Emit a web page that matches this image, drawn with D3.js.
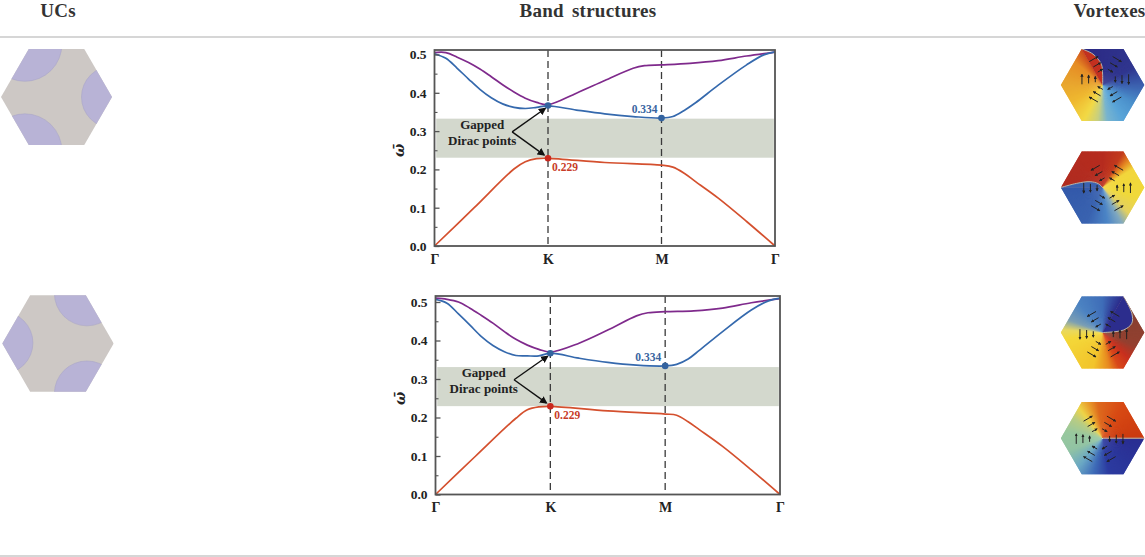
<!DOCTYPE html>
<html>
<head>
<meta charset="utf-8">
<script src="https://cdn.jsdelivr.net/npm/d3@7"></script>
<style>
	html, body { margin: 0; padding: 0; background: #fff; }
	svg { display: block; }
	text { font-family: "Liberation Serif", serif; font-weight: bold; }
</style>
</head>
<body>
<svg width="1145" height="557"></svg>
<script>
const headers = ["UCs", "Band structures", "Vortexes"];
const yTicks = [0, 0.1, 0.2, 0.3, 0.4, 0.5];
const yMinorTicks = [0.05, 0.15, 0.25, 0.35, 0.45];
const xTicks = [0, 1, 2, 3];
const xTickLabels = ["Γ", "K", "M", "Γ"];
const gapA = [0.2305, 0.3325];
const gapB = [0.2295, 0.331];

const kLower = [0, 0.35, 0.7, 0.8, 0.9, 1, 1.5, 2, 2.1, 2.2, 2.3, 2.5, 2.75, 3];
const kMiddle = [0, 0.1, 0.2, 0.3, 0.4, 0.5, 0.6, 0.7, 0.8, 0.9, 1, 1.25, 1.5, 1.75, 2, 2.1, 2.2, 2.3, 2.5, 2.75, 2.9, 3];
const kUpper = [0, 0.1, 0.2, 0.3, 0.4, 0.5, 0.6, 0.7, 0.8, 0.9, 1, 1.25, 1.5, 1.75, 1.85, 2, 2.25, 2.5, 2.75, 3];

const lowerA = [0, 0.1, 0.201, 0.22, 0.228, 0.229, 0.218, 0.211, 0.206, 0.19, 0.168, 0.125, 0.064, 0];
const middleA = [0.502, 0.49, 0.464, 0.436, 0.409, 0.387, 0.371, 0.362, 0.359, 0.362, 0.366, 0.355, 0.345, 0.338, 0.334, 0.338, 0.354, 0.374, 0.42, 0.473, 0.499, 0.507];
const upperA = [0.505, 0.505, 0.493, 0.479, 0.462, 0.442, 0.421, 0.402, 0.386, 0.375, 0.369, 0.399, 0.432, 0.464, 0.471, 0.473, 0.477, 0.484, 0.496, 0.506];

const lowerB = [0, 0.1, 0.198, 0.22, 0.2275, 0.229, 0.217, 0.209, 0.206, 0.189, 0.168, 0.125, 0.064, 0];
const middleB = [0.507, 0.497, 0.469, 0.44, 0.41, 0.387, 0.371, 0.361, 0.36, 0.36, 0.367, 0.354, 0.343, 0.336, 0.334, 0.338, 0.352, 0.375, 0.423, 0.479, 0.503, 0.51];
const upperB = [0.51, 0.507, 0.5, 0.484, 0.465, 0.445, 0.423, 0.403, 0.388, 0.377, 0.37, 0.393, 0.427, 0.464, 0.472, 0.475, 0.477, 0.484, 0.498, 0.509];

// hexagon corners and blobs, in units of the hexagon radius
const hexCorners = [[-1, 0], [-0.5, -0.866], [0.5, -0.866], [1, 0], [0.5, 0.866], [-0.5, 0.866]];
const blobsA = [[-0.57, -0.95, 0.667], [1.01, 0, 0.56], [-0.57, 0.97, 0.667]];
const blobsB = [[0.52, -0.9, 0.585], [-1.01, -0.01, 0.56], [0.52, 0.9, 0.585]];

// colour around the centre, degrees clockwise from twelve o'clock
const vortexes = [
	{ angles: [-30, 60, 90, 120, 150, 172, 188, 208, 240, 275, 310, 330],
		colors: ["#2c2a84", "#30368f", "#3b5fae", "#4a8fcb", "#5aa5d8", "#78b4cf", "#c8d080", "#f2d945", "#efb930", "#e8a42e", "#e68c25", "#cc4a1e"],
		edge: [[-0.5, -0.866], [-0.23, -0.74], [-0.03, -0.5], [0, -0.26], [0, 0]], bulge: "#c3301f", swirl: 1, shift: [2.7, -5.7] },
	{ angles: [-90, 0, 30, 42, 58, 105, 135, 152, 172, 205, 270],
		colors: ["#b02c20", "#b62c1f", "#c23a1e", "#e27f20", "#f2d63c", "#f0d93a", "#e3d060", "#80a8c0", "#4c85c6", "#3a63b0", "#3359aa"],
		edge: [[-1, 0], [-0.62, -0.1], [-0.3, -0.14], [-0.1, -0.09], [0, 0]], bulge: "#3a62b0", swirl: -1, shift: [4.5, 0.5] },
	{ angles: [30, 70, 112, 135, 155, 170, 195, 260, 274, 290, 320, 360, 390],
		colors: ["#7b4a3e", "#8a4030", "#944030", "#c8301e", "#d9481a", "#e88a20", "#f2c42c", "#f4d83a", "#e8d860", "#7c9fb4", "#4c83c2", "#3f6db8", "#2c2d8d"],
		edge: [[0.5, -0.866], [0.7, -0.46], [0.7, -0.22], [0.5, -0.06], [0, 0]], bulge: "#2c2d8d", swirl: -1, shift: [0.7, 1.7] },
	{ angles: [90, 170, 195, 220, 250, 280, 305, 322, 338, 352, 390, 450],
		colors: ["#2a2e92", "#2c3ba0", "#3f6cb8", "#6ba8c4", "#92c4a4", "#98c89e", "#b8cc84", "#eed548", "#e89b2c", "#dd6a1e", "#d84a14", "#cb3a10"],
		edge: [[1, 0], [0, 0]], bulge: "#d84a14", swirl: 1, shift: [-3, 0.7] }
];
const sectorAngles = [30, 90, 150, 210, 270, 330];
const arrowRadii = [0.24, 0.4, 0.56];
const arrowLengths = [0.07, 0.1, 0.12];

const svg = d3.select("svg");
const defs = svg.append("defs");

function arrowMarker(id, size, color) {
	defs.append("marker").attr("id", id)
		.attr("viewBox", "0 0 10 10").attr("refX", 8).attr("refY", 5)
		.attr("markerWidth", size).attr("markerHeight", size)
		.attr("orient", "auto")
		.append("path").attr("d", "M0,0L10,5L0,10z").attr("fill", color);
}
arrowMarker("head", 5.5, "#111");
arrowMarker("swirlHead", 3.2, "#222");

// ---- header and rules
const headerX = [58, 588, 1109.5];
svg.selectAll(".header").data(headers).enter().append("text")
	.attr("class", "header")
	.attr("x", (d, i) => headerX[i]).attr("y", 17)
	.attr("text-anchor", "middle")
	.attr("font-size", 19).attr("fill", "#333")
	.attr("letter-spacing", 0.25).attr("word-spacing", 3)
	.text((d) => d);
svg.selectAll(".rule").data([37, 556]).enter().append("line")
	.attr("class", "rule")
	.attr("x1", 0).attr("x2", 1145).attr("y1", (d) => d).attr("y2", (d) => d)
	.attr("stroke", "#c9c9c9").attr("stroke-width", 1.3);

// ---- band charts
function drawBands(opts) {
	const x = d3.scaleLinear().domain([0, 3]).range([opts.left, opts.right]);
	const y = d3.scaleLinear().domain([0, 0.5]).range([opts.zero, opts.half]);
	const g = svg.append("g");

	g.append("rect")
		.attr("x", x(0.015)).attr("width", x(2.99) - x(0.015))
		.attr("y", y(opts.gap[1])).attr("height", y(opts.gap[0]) - y(opts.gap[1]))
		.attr("fill", "#d3d8cd");

	g.selectAll(".dash").data([1, 2]).enter().append("line")
		.attr("x1", (d) => x(d)).attr("x2", (d) => x(d))
		.attr("y1", opts.top).attr("y2", opts.zero)
		.attr("stroke", "#3a3a3a").attr("stroke-width", 1.3)
		.attr("stroke-dasharray", "7 4");

	const line = d3.line()
		.x((d) => x(d[0])).y((d) => y(d[1]))
		.curve(d3.curveCatmullRom.alpha(0.5));
	const bands = [
		[kUpper, opts.upper, "#7f2a8c"],
		[kLower, opts.lower, "#d4502e"],
		[kMiddle, opts.middle, "#3569ad"],
	];
	bands.forEach(([k, w, color]) => {
		g.append("path")
			.attr("d", line(d3.zip(k, w)))
			.attr("fill", "none").attr("stroke", color).attr("stroke-width", 1.7);
	});

	// frame and axes
	g.append("rect")
		.attr("x", x(0)).attr("y", opts.top)
		.attr("width", x(3) - x(0)).attr("height", opts.zero - opts.top)
		.attr("fill", "none").attr("stroke", "#555").attr("stroke-width", 1.8);

	const yAxis = g.append("g").attr("transform", `translate(${x(0)},0)`)
		.call(d3.axisLeft(y).tickValues(yTicks).tickSize(-5).tickPadding(8).tickFormat(d3.format(".1f")));
	yAxis.select(".domain").remove();
	yAxis.selectAll("line").attr("stroke", "#555").attr("stroke-width", 1.3);
	yAxis.selectAll("text").attr("font-size", 13.5).attr("fill", "#222")
		.attr("font-family", '"Liberation Serif", serif');
	const yMinor = g.append("g").attr("transform", `translate(${x(0)},0)`)
		.call(d3.axisLeft(y).tickValues(yMinorTicks).tickSize(-3).tickFormat(""));
	yMinor.select(".domain").remove();
	yMinor.selectAll("line").attr("stroke", "#555").attr("stroke-width", 1.1);

	const xAxis = g.append("g").attr("transform", `translate(0,${opts.zero})`)
		.call(d3.axisBottom(x).tickValues(xTicks).tickSize(0).tickPadding(8).tickFormat((d, i) => xTickLabels[i]));
	xAxis.select(".domain").remove();
	xAxis.selectAll("text").attr("font-size", 14).attr("fill", "#222")
		.attr("font-family", '"Liberation Serif", serif');

	g.append("text")
		.attr("transform", `translate(${x(0) - 31},${y(0.25)}) rotate(-90)`)
		.attr("text-anchor", "middle").attr("font-size", 14).attr("font-style", "italic").attr("fill", "#222")
		.style("font-family", '"DejaVu Serif", serif')
		.text("ω\u0304");

	// annotation
	const from = [0.684, 0.298];
	[[0.975, 0.359], [0.965, 0.238]].forEach((to) => {
		g.append("line")
			.attr("x1", x(from[0])).attr("y1", y(from[1]))
			.attr("x2", x(to[0])).attr("y2", y(to[1]))
			.attr("stroke", "#111").attr("stroke-width", 1.4)
			.attr("marker-end", "url(#head)");
	});
	[["Gapped", 0.305], ["Dirac points", 0.264]].forEach(([t, w]) => {
		g.append("text")
			.attr("x", x(0.42)).attr("y", y(w))
			.attr("text-anchor", "middle").attr("font-size", 13).attr("fill", "#222")
			.text(t);
	});

	// gap edge points
	const points = [
		[1, 0.367, "#33639f"],
		[2, 0.334, "#33639f"],
		[1, 0.229, "#c9281e"],
	];
	g.selectAll(".pt").data(points).enter().append("circle")
		.attr("cx", (d) => x(d[0])).attr("cy", (d) => y(d[1])).attr("r", 3.3)
		.attr("fill", (d) => d[2]);

	g.append("text").attr("x", x(2) - 4).attr("y", y(0.334) - 5)
		.attr("text-anchor", "end").attr("font-size", 11.5).attr("fill", "#3a659f")
		.text("0.334");
	g.append("text").attr("x", x(1) + 4).attr("y", y(0.229) + 13)
		.attr("font-size", 11.5).attr("fill", "#c83c28")
		.text("0.229");
}

drawBands({ left: 434.5, right: 775, top: 50, zero: 246, half: 54.5, gap: gapA, lower: lowerA, middle: middleA, upper: upperA });
drawBands({ left: 435.5, right: 780, top: 296, zero: 494.5, half: 302, gap: gapB, lower: lowerB, middle: middleB, upper: upperB });

// ---- hexagons
function hexScales(cx, cy, r) {
	return {
		x: d3.scaleLinear().domain([-1, 1]).range([cx - r, cx + r]),
		y: d3.scaleLinear().domain([-1, 1]).range([cy - r, cy + r]),
	};
}

function hexClip(id, s) {
	defs.append("clipPath").attr("id", id).append("polygon")
		.attr("points", hexCorners.map((c) => [s.x(c[0]), s.y(c[1])].join(",")).join(" "));
}

function drawCell(id, cx, cy, r, blobs) {
	const s = hexScales(cx, cy, r);
	hexClip(id, s);
	const g = svg.append("g").attr("clip-path", `url(#${id})`);
	g.append("rect").attr("x", cx - r).attr("y", cy - r)
		.attr("width", 2 * r).attr("height", 2 * r).attr("fill", "#cdc8c5");
	g.selectAll("circle").data(blobs).enter().append("circle")
		.attr("cx", (d) => s.x(d[0])).attr("cy", (d) => s.y(d[1]))
		.attr("r", (d) => d[2] * r)
		.attr("fill", "#b8b3d6").attr("stroke", "#a6a2c6").attr("stroke-width", 0.5);
}

drawCell("cellA", 56.5, 97, 55.5, blobsA);
drawCell("cellB", 58, 343.4, 55.7, blobsB);

function drawVortex(id, cx, cy, r, v) {
	const s = hexScales(cx, cy, r);
	hexClip(id, s);
	const g = svg.append("g").attr("clip-path", `url(#${id})`);
	const plot = g.append("g").attr("transform", `translate(${cx},${cy})`);
	const color = d3.scaleLinear().domain(v.angles).range(v.colors);
	const arc = d3.arc().innerRadius(0).outerRadius(2 * r);
	const first = v.angles[0];
	const last = v.angles[v.angles.length - 1];
	const steps = d3.range(first, last, 2);
	// each wedge runs under the next one so no seams show
	plot.selectAll(".wedge").data(steps).enter().append("path")
		.attr("d", (a) => arc({ startAngle: a * Math.PI / 180, endAngle: Math.min(a + 4, last) * Math.PI / 180 }))
		.attr("fill", (a) => color(a + 1));

	// the branch cut bends away from the straight spoke
	const edge = d3.line().x((d) => s.x(d[0])).y((d) => s.y(d[1])).curve(d3.curveCatmullRom);
	g.append("path").attr("d", edge(v.edge) + "Z").attr("fill", v.bulge);
	g.append("path").attr("d", edge(v.edge))
		.attr("fill", "none").attr("stroke", "#b9b4a8").attr("stroke-width", 1);

	// swirl of arrows
	const arrows = d3.cross(sectorAngles, d3.range(arrowRadii.length));
	g.selectAll(".swirl").data(arrows).enter().append("line")
		.each(function ([deg, i]) {
			const a = deg * Math.PI / 180;
			const rad = arrowRadii[i];
			const len = arrowLengths[i] * r;
			const px = s.x(rad * Math.sin(a)) + v.shift[0];
			const py = s.y(-rad * Math.cos(a)) + v.shift[1];
			const dx = Math.cos(a) * v.swirl * len;
			const dy = Math.sin(a) * v.swirl * len;
			d3.select(this)
				.attr("x1", px - dx).attr("y1", py - dy)
				.attr("x2", px + dx).attr("y2", py + dy);
		})
		.attr("stroke", "#222").attr("stroke-width", 1)
		.attr("marker-end", "url(#swirlHead)");
}

drawVortex("vortexA", 1102.6, 85, 41.7, vortexes[0]);
drawVortex("vortexB", 1102.6, 187.5, 41.7, vortexes[1]);
drawVortex("vortexC", 1102.6, 332.5, 41.7, vortexes[2]);
drawVortex("vortexD", 1102.6, 438.2, 41.7, vortexes[3]);
</script>
</body>
</html>
